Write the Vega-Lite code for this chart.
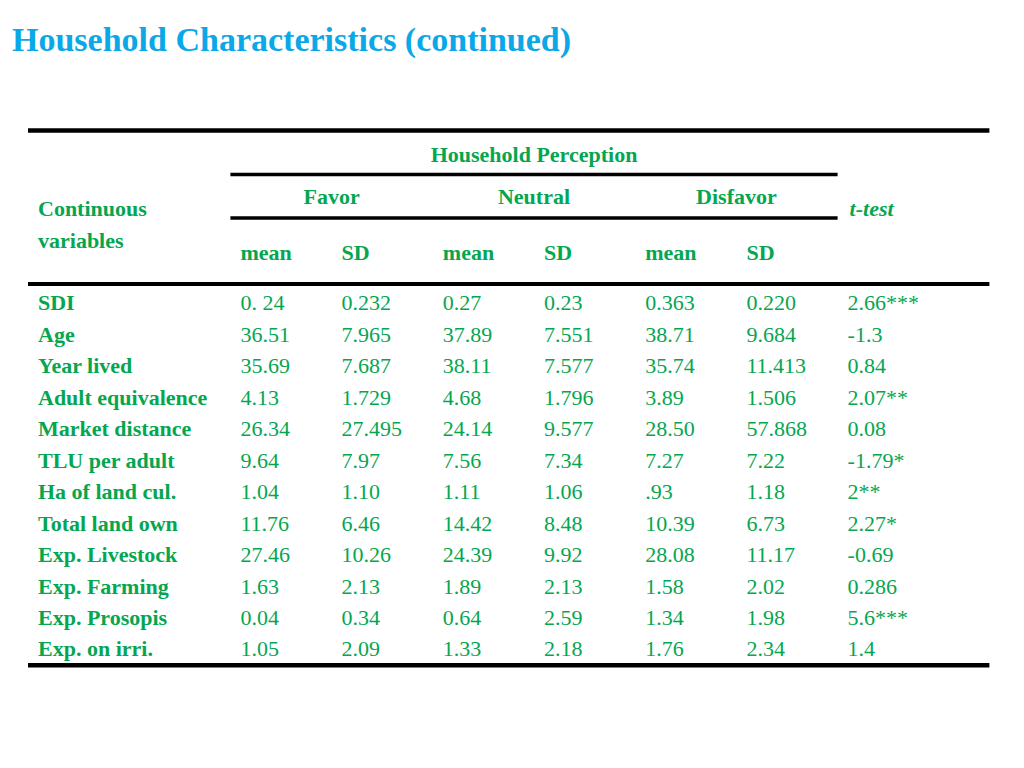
{
  "$schema": "https://vega.github.io/schema/vega-lite/v6.json",
  "width": 1024,
  "height": 698,
  "autosize": {"type": "none"},
  "padding": {"top": 70, "left": 0, "right": 0, "bottom": 0},
  "background": "white",
  "title": {
    "text": "Household Characteristics (continued)",
    "anchor": "start",
    "frame": "group",
    "dx": 12,
    "offset": 12,
    "font": "Liberation Serif",
    "fontSize": 34,
    "fontWeight": "bold",
    "color": "#0BA8E8"
  },
  "config": {
    "view": {"stroke": null},
    "text": {"font": "Liberation Serif", "fontSize": 22, "color": "#05A650", "baseline": "middle"}
  },
  "datasets": {
    "table": [
      {"variable": "SDI", "Favor mean": "0. 24", "Favor SD": "0.232", "Neutral mean": "0.27", "Neutral SD": "0.23", "Disfavor mean": "0.363", "Disfavor SD": "0.220", "t-test": "2.66***"},
      {"variable": "Age", "Favor mean": "36.51", "Favor SD": "7.965", "Neutral mean": "37.89", "Neutral SD": "7.551", "Disfavor mean": "38.71", "Disfavor SD": "9.684", "t-test": "-1.3"},
      {"variable": "Year lived", "Favor mean": "35.69", "Favor SD": "7.687", "Neutral mean": "38.11", "Neutral SD": "7.577", "Disfavor mean": "35.74", "Disfavor SD": "11.413", "t-test": "0.84"},
      {"variable": "Adult equivalence", "Favor mean": "4.13", "Favor SD": "1.729", "Neutral mean": "4.68", "Neutral SD": "1.796", "Disfavor mean": "3.89", "Disfavor SD": "1.506", "t-test": "2.07**"},
      {"variable": "Market distance", "Favor mean": "26.34", "Favor SD": "27.495", "Neutral mean": "24.14", "Neutral SD": "9.577", "Disfavor mean": "28.50", "Disfavor SD": "57.868", "t-test": "0.08"},
      {"variable": "TLU per adult", "Favor mean": " 9.64", "Favor SD": "7.97", "Neutral mean": "7.56", "Neutral SD": "7.34", "Disfavor mean": "7.27", "Disfavor SD": "7.22", "t-test": "-1.79*"},
      {"variable": "Ha of land cul.", "Favor mean": "1.04", "Favor SD": "1.10", "Neutral mean": "1.11", "Neutral SD": "1.06", "Disfavor mean": ".93", "Disfavor SD": "1.18", "t-test": "2**"},
      {"variable": "Total land own", "Favor mean": "11.76", "Favor SD": "6.46", "Neutral mean": "14.42", "Neutral SD": "8.48", "Disfavor mean": "10.39", "Disfavor SD": "6.73", "t-test": "2.27*"},
      {"variable": "Exp. Livestock", "Favor mean": "27.46", "Favor SD": "10.26", "Neutral mean": "24.39", "Neutral SD": "9.92", "Disfavor mean": "28.08", "Disfavor SD": "11.17", "t-test": "-0.69"},
      {"variable": "Exp.  Farming", "Favor mean": "1.63", "Favor SD": "2.13", "Neutral mean": "1.89", "Neutral SD": "2.13", "Disfavor mean": "1.58", "Disfavor SD": "2.02", "t-test": "0.286"},
      {"variable": "Exp. Prosopis", "Favor mean": "0.04", "Favor SD": "0.34", "Neutral mean": "0.64", "Neutral SD": "2.59", "Disfavor mean": "1.34", "Disfavor SD": "1.98", "t-test": "5.6***"},
      {"variable": "Exp. on irri.", "Favor mean": "1.05", "Favor SD": "2.09", "Neutral mean": "1.33", "Neutral SD": "2.18", "Disfavor mean": "1.76", "Disfavor SD": "2.34", "t-test": "1.4"}
    ],
    "stub": [
      {"row": "h3", "col": "Continuous variables", "text": "Continuous"},
      {"row": "h4", "col": "Continuous variables", "text": "variables"}
    ],
    "ttest": [
      {"row": "h3", "col": "t-test", "text": "t-test"}
    ],
    "perception": [
      {"row": "h1", "col": "Neutral SD", "text": "Household Perception"}
    ],
    "groups": [
      {"row": "h3", "col": "Favor SD", "text": "Favor"},
      {"row": "h3", "col": "Neutral SD", "text": "Neutral"},
      {"row": "h3", "col": "Disfavor SD", "text": "Disfavor"}
    ],
    "stats": [
      {"row": "h4", "col": "Favor mean", "text": "mean"},
      {"row": "h4", "col": "Favor SD", "text": "SD"},
      {"row": "h4", "col": "Neutral mean", "text": "mean"},
      {"row": "h4", "col": "Neutral SD", "text": "SD"},
      {"row": "h4", "col": "Disfavor mean", "text": "mean"},
      {"row": "h4", "col": "Disfavor SD", "text": "SD"}
    ],
    "outerRules": [
      {"row": "h1", "from": "Continuous variables", "to": "end"},
      {"row": "foot", "from": "Continuous variables", "to": "end"}
    ],
    "headRule": [
      {"row": "h5", "from": "Continuous variables", "to": "end"}
    ],
    "perceptionRule": [
      {"row": "h2", "from": "Favor mean", "to": "t-test"}
    ],
    "groupRule": [
      {"row": "h3", "from": "Favor mean", "to": "t-test"}
    ]
  },
  "layer": [
    {
      "data": {"name": "outerRules"},
      "mark": {"type": "rule", "color": "black", "strokeWidth": 4.5},
      "encoding": {
        "x": {"field": "from", "type": "nominal", "bandPosition": 0, "axis": null,
          "scale": {"type": "band", "domain": ["Continuous variables", "gap", "Favor mean", "Favor SD", "Neutral mean", "Neutral SD", "Disfavor mean", "Disfavor SD", "t-test", "end"], "range": [28, 1040], "paddingInner": 0, "paddingOuter": 0}},
        "x2": {"field": "to", "bandPosition": 0.5},
        "y": {"field": "row", "type": "nominal", "bandPosition": 0, "axis": null,
          "scale": {"type": "band", "domain": ["h1", "h2", "h3", "h4", "h5", "SDI", "Age", "Year lived", "Adult equivalence", "Market distance", "TLU per adult", "Ha of land cul.", "Total land own", "Exp. Livestock", "Exp.  Farming", "Exp. Prosopis", "Exp. on irri.", "foot"], "range": [60.5, 626.6], "paddingInner": 0, "paddingOuter": 0}}
      }
    },
    {
      "data": {"name": "headRule"},
      "mark": {"type": "rule", "color": "black", "strokeWidth": 4},
      "encoding": {
        "x": {"field": "from", "type": "nominal", "bandPosition": 0, "axis": null},
        "x2": {"field": "to", "bandPosition": 0.5},
        "y": {"field": "row", "type": "nominal", "bandPosition": 0.88, "axis": null}
      }
    },
    {
      "data": {"name": "perceptionRule"},
      "mark": {"type": "rule", "color": "black", "strokeWidth": 3.5},
      "encoding": {
        "x": {"field": "from", "type": "nominal", "bandPosition": 0, "axis": null},
        "x2": {"field": "to", "bandPosition": 0},
        "y": {"field": "row", "type": "nominal", "bandPosition": 0.4, "axis": null}
      }
    },
    {
      "data": {"name": "groupRule"},
      "mark": {"type": "rule", "color": "black", "strokeWidth": 3.5},
      "encoding": {
        "x": {"field": "from", "type": "nominal", "bandPosition": 0, "axis": null},
        "x2": {"field": "to", "bandPosition": 0},
        "y": {"field": "row", "type": "nominal", "bandPosition": 0.78, "axis": null}
      }
    },
    {
      "data": {"name": "table"},
      "mark": {"type": "text", "align": "left", "dx": 10, "fontWeight": "bold"},
      "encoding": {
        "x": {"datum": "Continuous variables", "type": "nominal", "bandPosition": 0, "axis": null},
        "y": {"field": "variable", "type": "nominal", "axis": null},
        "text": {"field": "variable"}
      }
    },
    {
      "data": {"name": "table"},
      "transform": [{"fold": ["Favor mean", "Favor SD", "Neutral mean", "Neutral SD", "Disfavor mean", "Disfavor SD", "t-test"], "as": ["col", "val"]}],
      "mark": {"type": "text", "align": "left", "dx": 10},
      "encoding": {
        "x": {"field": "col", "type": "nominal", "bandPosition": 0, "axis": null},
        "y": {"field": "variable", "type": "nominal", "axis": null},
        "text": {"field": "val"}
      }
    },
    {
      "data": {"name": "stub"},
      "mark": {"type": "text", "align": "left", "dx": 10, "fontWeight": "bold"},
      "encoding": {
        "x": {"field": "col", "type": "nominal", "bandPosition": 0, "axis": null},
        "y": {"field": "row", "type": "nominal", "axis": null},
        "text": {"field": "text"}
      }
    },
    {
      "data": {"name": "ttest"},
      "mark": {"type": "text", "align": "left", "dx": 12, "fontWeight": "bold", "fontStyle": "italic"},
      "encoding": {
        "x": {"field": "col", "type": "nominal", "bandPosition": 0, "axis": null},
        "y": {"field": "row", "type": "nominal", "axis": null},
        "text": {"field": "text"}
      }
    },
    {
      "data": {"name": "perception"},
      "mark": {"type": "text", "align": "center", "dy": 9, "fontWeight": "bold"},
      "encoding": {
        "x": {"field": "col", "type": "nominal", "bandPosition": 0, "axis": null},
        "y": {"field": "row", "type": "nominal", "axis": null},
        "text": {"field": "text"}
      }
    },
    {
      "data": {"name": "groups"},
      "mark": {"type": "text", "align": "center", "dy": -12, "fontWeight": "bold"},
      "encoding": {
        "x": {"field": "col", "type": "nominal", "bandPosition": 0, "axis": null},
        "y": {"field": "row", "type": "nominal", "axis": null},
        "text": {"field": "text"}
      }
    },
    {
      "data": {"name": "stats"},
      "mark": {"type": "text", "align": "left", "dx": 10, "dy": 12, "fontWeight": "bold"},
      "encoding": {
        "x": {"field": "col", "type": "nominal", "bandPosition": 0, "axis": null},
        "y": {"field": "row", "type": "nominal", "axis": null},
        "text": {"field": "text"}
      }
    }
  ]
}
